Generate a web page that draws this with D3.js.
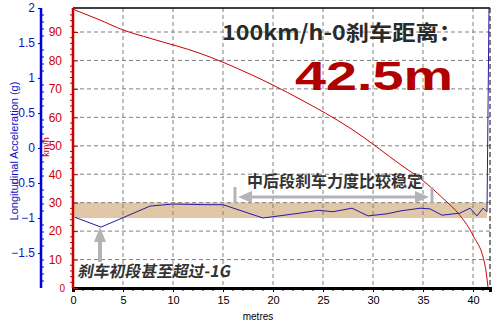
<!DOCTYPE html>
<html>
<head>
<meta charset="utf-8">
<script src="https://cdn.jsdelivr.net/npm/d3@7"></script>
<style>
  body { margin: 0; background: #fff; }
  svg { display: block; font-family: "Liberation Sans", Arial, sans-serif; }
</style>
</head>
<body>
<svg id="chart" width="500" height="325"></svg>
<script>
// speed (km/h) against distance (m)
const speedDist = [0, 2.5, 5.1, 7.7, 12.7, 17.7, 22.7, 27.8, 32.9, 34.9, 37.0, 38.7, 40.0, 41.2, 41.5];
const speedVals = [98, 94.5, 90.6, 87.8, 82.5, 75.2, 66.4, 56, 43, 38, 31.5, 25.5, 18.5, 8, 0.3];

// longitudinal acceleration (g) against distance (m)
const accDist = [0.2, 2.8, 7.7, 10.0, 13.4, 15.0, 19.0, 22.7, 24.5, 26.0, 27.9, 29.5, 31.4, 32.7, 34.7, 35.7, 36.9, 38.7, 39.7, 40.4, 41.0, 41.4, 41.6];
const accVals = [-0.99, -1.13, -0.83, -0.80, -0.81, -0.81, -1.0, -0.93, -0.89, -0.91, -0.86, -0.97, -0.94, -0.90, -0.86, -0.87, -0.96, -0.93, -0.86, -0.97, -0.86, -0.91, 2.0];

const xTicks = [0, 5, 10, 15, 20, 25, 30, 35, 40];
const speedTicks = [10, 20, 30, 40, 50, 60, 70, 80, 90];
const accTicks = [2, 1.5, 1, 0.5, 0, -0.5, -1, -1.5];
const band = [-0.78, -1.0];

const svg = d3.select('#chart');

const x = d3.scaleLinear().domain([0, 41.7]).range([73, 490]);
const ySpeed = d3.scaleLinear().domain([0, 90]).range([288, 32]);
const yAcc = d3.scaleLinear().domain([-2, 2]).range([288, 8]);

// band of steady braking
svg.append('rect')
    .attr('x', x(0))
    .attr('y', yAcc(band[0]))
    .attr('width', 487 - x(0))
    .attr('height', yAcc(band[1]) - yAcc(band[0]))
    .attr('fill', '#dfc7a7');

// grid
svg.append('g').selectAll('line')
    .data(xTicks.slice(1))
    .enter().append('line')
    .attr('x1', d => x(d)).attr('x2', d => x(d))
    .attr('y1', 8).attr('y2', 288)
    .attr('stroke', '#808080')
    .attr('stroke-dasharray', '4,3');

svg.append('g').selectAll('line')
    .data(speedTicks)
    .enter().append('line')
    .attr('x1', x(0)).attr('x2', 490)
    .attr('y1', d => ySpeed(d)).attr('y2', d => ySpeed(d))
    .attr('stroke', '#808080')
    .attr('stroke-dasharray', '4,3');

// right border
svg.append('line')
    .attr('x1', 490).attr('x2', 490).attr('y1', 8).attr('y2', 288)
    .attr('stroke', '#000').attr('stroke-dasharray', '5,3');

// top border
svg.append('line')
    .attr('x1', x(0)).attr('x2', 490).attr('y1', 8).attr('y2', 8)
    .attr('stroke', '#000').attr('stroke-width', 1.5);

// series
const accLine = d3.line()
    .x((d, i) => x(accDist[i]))
    .y(d => yAcc(d));
svg.append('path')
    .datum(accVals)
    .attr('d', accLine)
    .attr('fill', 'none')
    .attr('stroke', '#2a1aa0')
    .attr('stroke-width', 1);

const speedLine = d3.line()
    .curve(d3.curveMonotoneX)
    .x((d, i) => x(speedDist[i]))
    .y(d => ySpeed(d));
svg.append('path')
    .datum(speedVals)
    .attr('d', speedLine)
    .attr('fill', 'none')
    .attr('stroke', '#cc0000')
    .attr('stroke-width', 1);

// bottom axis
const xAxis = svg.append('g')
    .attr('transform', 'translate(0,288)')
    .call(d3.axisBottom(x).tickValues(xTicks).tickSize(4).tickPadding(4));
xAxis.select('.domain').attr('stroke', '#000').attr('stroke-width', 3);
xAxis.selectAll('text').attr('font-size', 11).attr('fill', '#000');
xAxis.selectAll('.tick line').attr('stroke', '#000');
xAxis.selectAll('.minor')
    .data(d3.range(1, 42).filter(d => d % 5 !== 0))
    .enter().append('line')
    .attr('x1', d => x(d)).attr('x2', d => x(d))
    .attr('y1', 1).attr('y2', 3)
    .attr('stroke', '#000');

svg.append('text')
    .attr('x', 258).attr('y', 320)
    .attr('text-anchor', 'middle')
    .attr('font-size', 10)
    .text('metres');

// red speed axis
const speedAxis = svg.append('g')
    .attr('transform', 'translate(' + x(0) + ',0)')
    .call(d3.axisLeft(ySpeed).tickValues([0].concat(speedTicks)).tickSize(-5).tickPadding(11));
speedAxis.select('.domain').remove();
speedAxis.selectAll('.tick line').attr('stroke', '#cc0000');
speedAxis.selectAll('text').attr('font-size', 12).attr('fill', '#cc0000');
speedAxis.append('line')
    .attr('x1', 0).attr('x2', 0).attr('y1', 8).attr('y2', 288)
    .attr('stroke', '#cc0000').attr('stroke-width', 2.5);
speedAxis.selectAll('.minor')
    .data(d3.range(2, 98, 2).filter(d => d % 10 !== 0))
    .enter().append('line')
    .attr('x1', -3).attr('x2', 0)
    .attr('y1', d => ySpeed(d)).attr('y2', d => ySpeed(d))
    .attr('stroke', '#cc0000');
speedAxis.select('.tick text').attr('font-size', 10).attr('dx', 3);

svg.append('text')
    .attr('transform', 'translate(49,147) rotate(-90)')
    .attr('text-anchor', 'middle')
    .attr('font-size', 9)
    .attr('fill', '#cc0000')
    .text('km/h');

// blue acceleration axis
const accAxis = svg.append('g')
    .attr('transform', 'translate(41,0)')
    .call(d3.axisLeft(yAcc).tickValues(accTicks).tickSize(3).tickPadding(3).tickFormat(d3.format('')));
accAxis.select('.domain').remove();
accAxis.selectAll('.tick line').attr('stroke', '#0000cc');
accAxis.selectAll('text').attr('font-size', 12).attr('fill', '#1010c0');
accAxis.append('line')
    .attr('x1', 0).attr('x2', 0).attr('y1', 8).attr('y2', 288)
    .attr('stroke', '#0000dd').attr('stroke-width', 2.5);
accAxis.selectAll('.minor')
    .data(d3.range(-19, 20).filter(d => d % 5 !== 0).map(d => d / 10))
    .enter().append('line')
    .attr('x1', 0).attr('x2', 3)
    .attr('y1', d => yAcc(d)).attr('y2', d => yAcc(d))
    .attr('stroke', '#0000cc');

svg.append('text')
    .attr('transform', 'translate(18,151) rotate(-90)')
    .attr('text-anchor', 'middle')
    .attr('font-size', 11)
    .attr('fill', '#1010c0')
    .text('Longitudinal Acceleration (g)');

// annotations
const cjk = '"Noto Sans CJK SC", "Noto Sans", sans-serif';

svg.append('text')
    .attr('x', 222).attr('y', 40)
    .attr('textLength', 240).attr('lengthAdjust', 'spacingAndGlyphs')
    .attr('font-family', cjk)
    .attr('font-weight', 'bold')
    .attr('font-size', 21)
    .attr('fill', '#2a2a2a')
    .text('100km/h-0刹车距离：');

svg.append('text')
    .attr('x', 295).attr('y', 90)
    .attr('textLength', 158).attr('lengthAdjust', 'spacingAndGlyphs')
    .attr('font-family', '"Liberation Sans", Arial, sans-serif')
    .attr('font-weight', 'bold')
    .attr('font-size', 41)
    .attr('fill', '#b00000')
    .text('42.5m');

svg.append('text')
    .attr('x', 247).attr('y', 187)
    .attr('textLength', 176).attr('lengthAdjust', 'spacingAndGlyphs')
    .attr('font-family', cjk)
    .attr('font-weight', 'bold')
    .attr('font-size', 16)
    .attr('fill', '#333')
    .text('中后段刹车力度比较稳定');

svg.append('text')
    .attr('x', 78).attr('y', 277)
    .attr('textLength', 153).attr('lengthAdjust', 'spacingAndGlyphs')
    .attr('font-family', cjk)
    .attr('font-weight', 'bold')
    .attr('font-size', 16)
    .attr('fill', '#333')
    .attr('transform', 'skewX(-10) translate(48,0)')
    .text('刹车初段甚至超过-1G');

// grey arrows
const grey = '#b4b4b4';
const arrows = svg.append('g').attr('fill', grey).attr('stroke', grey);
arrows.append('line').attr('x1', 235).attr('x2', 235).attr('y1', 187).attr('y2', 203).attr('stroke-width', 3);
arrows.append('line').attr('x1', 432).attr('x2', 432).attr('y1', 187).attr('y2', 203).attr('stroke-width', 3);
arrows.append('line').attr('x1', 245).attr('x2', 422).attr('y1', 197).attr('y2', 197).attr('stroke-width', 3);
arrows.append('path').attr('stroke', 'none').attr('d', 'M238,197 L252,191 L252,203 Z');
arrows.append('path').attr('stroke', 'none').attr('d', 'M429,197 L415,191 L415,203 Z');
arrows.append('line').attr('x1', 100).attr('x2', 100).attr('y1', 238).attr('y2', 262).attr('stroke-width', 4);
arrows.append('path').attr('stroke', 'none').attr('d', 'M100,227 L94,242 L106,242 Z');
</script>
</body>
</html>
